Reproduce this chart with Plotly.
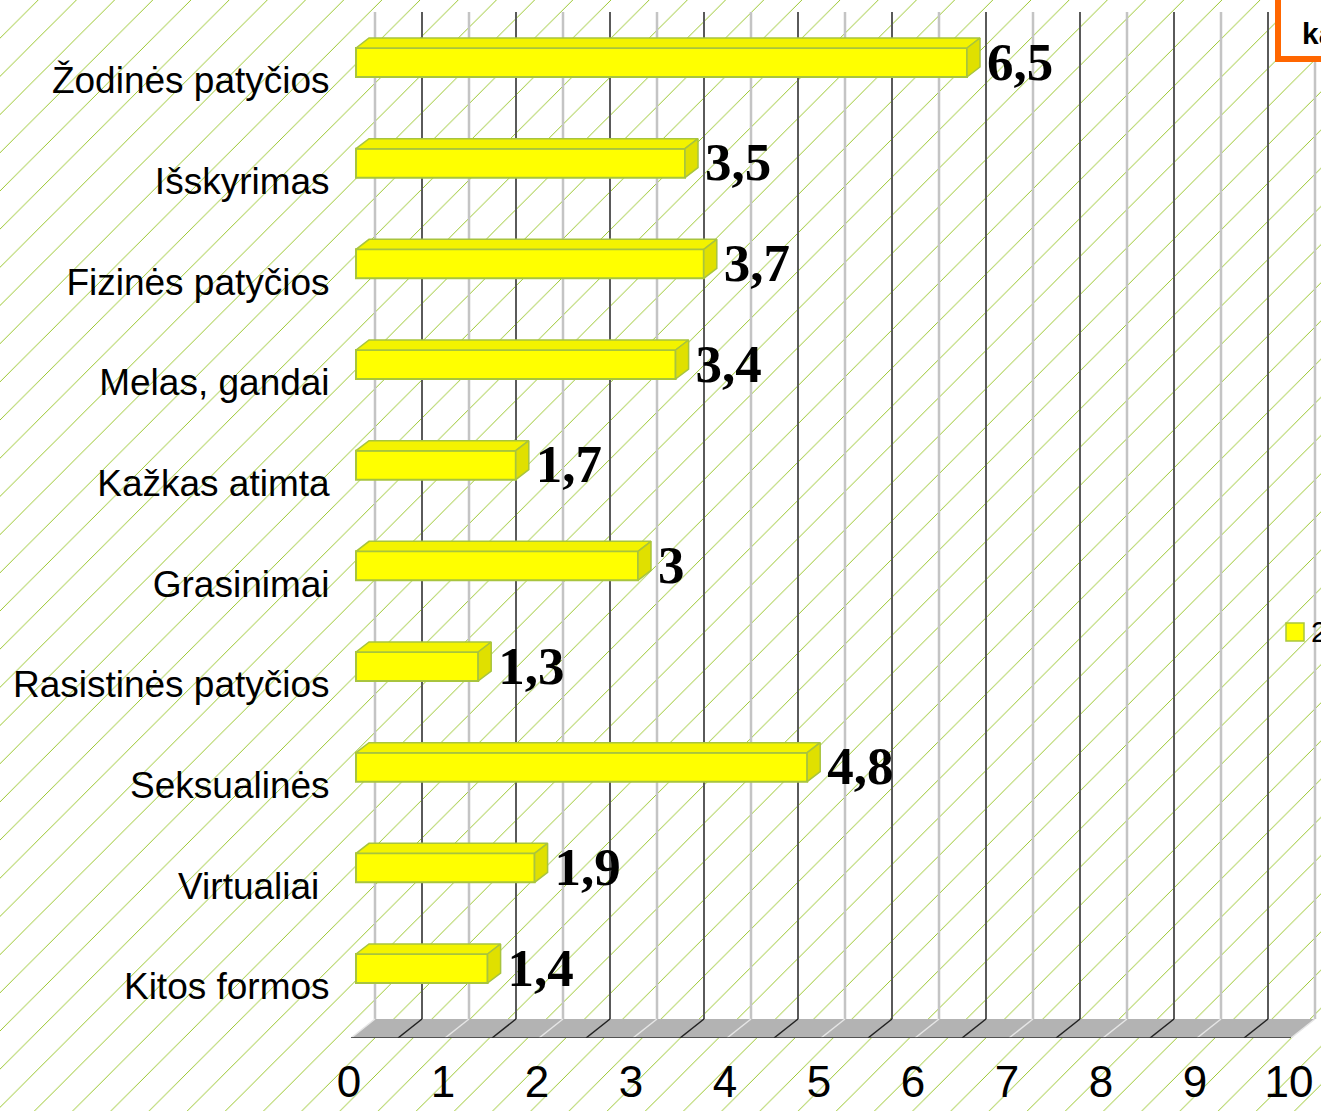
import plotly.graph_objects as go

W, H = 1321, 1111

categories = ["Žodinės patyčios", "Išskyrimas", "Fizinės patyčios", "Melas, gandai",
              "Kažkas atimta", "Grasinimai", "Rasistinės patyčios", "Seksualinės",
              "Virtualiai\u00a0", "Kitos formos"]
values = [6.5, 3.5, 3.7, 3.4, 1.7, 3, 1.3, 4.8, 1.9, 1.4]
x_ticks = [0, 1, 2, 3, 4, 5, 6, 7, 8, 9, 10]
half_ticks = [0.5, 1.5, 2.5, 3.5, 4.5, 5.5, 6.5, 7.5, 8.5, 9.5]

PX_PER_X = 94.0
PX_PER_Y = 100.67
X0_PX, Y0_PX = 356.0, 62.5
xr = [(340 - X0_PX) / PX_PER_X, (1320 - X0_PX) / PX_PER_X]
yr = [(1038 - Y0_PX) / PX_PER_Y, (12 - Y0_PX) / PX_PER_Y]
BACK_DX = 19 / PX_PER_X
FRONT_DX = -5 / PX_PER_X
WALL_BOTTOM = (1019 - Y0_PX) / PX_PER_Y
DX = 13 / PX_PER_X
DY = 10 / PX_PER_Y
BAR_W = 29 / PX_PER_Y
EDGE = "#a8c43e"
idx = list(range(len(categories)))

fig = go.Figure()

# hatch background
fig.add_trace(go.Bar(x=[1], y=[0], orientation="h", width=1, xaxis="x", yaxis="y",
                     marker=dict(color="white", line=dict(width=0),
                                 pattern=dict(shape="/", size=27, solidity=0.035,
                                              fgcolor="#94c322", bgcolor="white", fgopacity=1)),
                     hoverinfo="skip", showlegend=False))

# floor
fx = [FRONT_DX, BACK_DX, 10 + BACK_DX, 10 + FRONT_DX, FRONT_DX]
fy = [yr[0], WALL_BOTTOM, WALL_BOTTOM, yr[0], yr[0]]
fig.add_trace(go.Scatter(x=fx, y=fy, fill="toself", fillcolor="#b3b3b3", mode="lines",
                         line=dict(width=0), xaxis="x2", yaxis="y2", showlegend=False, hoverinfo="skip"))

def grid(vals, color, width, floor_color, floor_width):
    x, y, x2, y2 = [], [], [], []
    for v in vals:
        x += [v + BACK_DX, v + BACK_DX, None]
        y += [yr[1], WALL_BOTTOM, None]
        x2 += [v + BACK_DX, v + FRONT_DX, None]
        y2 += [WALL_BOTTOM, yr[0], None]
    fig.add_trace(go.Scatter(x=x, y=y, mode="lines", line=dict(color=color, width=width),
                             xaxis="x2", yaxis="y2", showlegend=False, hoverinfo="skip"))
    fig.add_trace(go.Scatter(x=x2, y=y2, mode="lines", line=dict(color=floor_color, width=floor_width),
                             xaxis="x2", yaxis="y2", showlegend=False, hoverinfo="skip"))

grid(x_ticks, "#c4c4c4", 2.5, "#e6e6e6", 1.5)
grid(half_ticks, "#5a5a5a", 2, "#222222", 1.5)

# floor front edge
fig.add_trace(go.Scatter(x=[FRONT_DX, 10 + FRONT_DX], y=[yr[0], yr[0]], mode="lines",
                         line=dict(color="#333333", width=1.5), xaxis="x2", yaxis="y2",
                         showlegend=False, hoverinfo="skip"))

# bars: front face
fig.add_trace(go.Bar(x=values, y=idx, orientation="h", width=BAR_W, xaxis="x3", yaxis="y3",
                     marker=dict(color="#ffff00", line=dict(color=EDGE, width=2)),
                     hoverinfo="skip", showlegend=False))

# top and side faces
tx, ty, sx, sy = [], [], [], []
for v, i in zip(values, idx):
    t = i - BAR_W / 2
    b = i + BAR_W / 2
    tx += [0, DX, v + DX, v, 0, None]
    ty += [t, t - DY, t - DY, t, t, None]
    sx += [v, v + DX, v + DX, v, v, None]
    sy += [t, t - DY, b - DY, b, t, None]
fig.add_trace(go.Scatter(x=tx, y=ty, fill="toself", fillcolor="#f3f300", mode="lines",
                         line=dict(color=EDGE, width=1.5), xaxis="x3", yaxis="y3",
                         showlegend=False, hoverinfo="skip"))
fig.add_trace(go.Scatter(x=sx, y=sy, fill="toself", fillcolor="#e0e000", mode="lines",
                         line=dict(color=EDGE, width=1.5), xaxis="x3", yaxis="y3",
                         showlegend=False, hoverinfo="skip"))

# value labels
fig.add_trace(go.Scatter(x=[v + 20 / PX_PER_X for v in values], y=[i + 4 / PX_PER_Y for i in idx], mode="text",
                         text=[str(v).replace(".", ",") for v in values],
                         textposition="middle right", cliponaxis=False,
                         textfont=dict(family="Liberation Serif", size=53, color="black", weight="bold"),
                         xaxis="x3", yaxis="y3", showlegend=False, hoverinfo="skip"))

dom_x = [340 / W, 1320 / W]
dom_y = [1 - 1038 / H, 1 - 12 / H]
hidden = dict(visible=False, fixedrange=True)

fig.update_layout(
    width=W, height=H, margin=dict(l=0, r=0, t=0, b=0, pad=0),
    paper_bgcolor="white", plot_bgcolor="rgba(0,0,0,0)", showlegend=False, barmode="overlay",
    xaxis=dict(domain=[0, 1], range=[0, 1], **hidden),
    yaxis=dict(domain=[0, 1], range=[-0.5, 0.5], **hidden),
    xaxis2=dict(domain=dom_x, range=xr, anchor="y2", **hidden),
    yaxis2=dict(domain=dom_y, range=yr, anchor="x2", **hidden),
    xaxis3=dict(domain=dom_x, range=xr, anchor="y3", showgrid=False, zeroline=False, showline=False,
                tickmode="array", tickvals=[v - 7 / PX_PER_X for v in x_ticks],
                ticktext=[str(v) for v in x_ticks], ticks="outside", ticklen=5,
                tickcolor="rgba(0,0,0,0)", automargin=False,
                tickfont=dict(family="Liberation Sans", size=44, color="black")),
    yaxis3=dict(domain=dom_y, range=yr, anchor="x3", showgrid=False, zeroline=False, showline=False,
                tickmode="array", tickvals=[i + 18 / PX_PER_Y for i in idx], ticktext=categories,
                ticks="outside", ticklen=2, tickcolor="rgba(0,0,0,0)", automargin=False,
                tickfont=dict(family="Liberation Sans", size=37, color="black")),
    shapes=[
        dict(type="rect", xref="paper", yref="paper", x0=1278 / W, x1=1340 / W, y0=1 - 59 / H, y1=1 + 20 / H,
             line=dict(color="#ff6600", width=6), fillcolor="white"),
        dict(type="rect", xref="paper", yref="paper", x0=1286 / W, x1=1304 / W, y0=1 - 641 / H, y1=1 - 623 / H,
             line=dict(color="#aac63c", width=1.5), fillcolor="#ffff00"),
    ],
    annotations=[
        dict(xref="paper", yref="paper", x=1300 / W, y=1 - 33 / H, xanchor="left", yanchor="middle",
             text="ka", showarrow=False, font=dict(family="Liberation Sans", size=30, color="black", weight="bold")),
        dict(xref="paper", yref="paper", x=1309 / W, y=1 - 631 / H, xanchor="left", yanchor="middle",
             text="2", showarrow=False, font=dict(family="Liberation Sans", size=30, color="black")),
    ],
)

fig.write_html("out.html", config=dict(displayModeBar=False),
               post_script="document.body.style.margin='0';document.body.style.overflow='hidden';")
